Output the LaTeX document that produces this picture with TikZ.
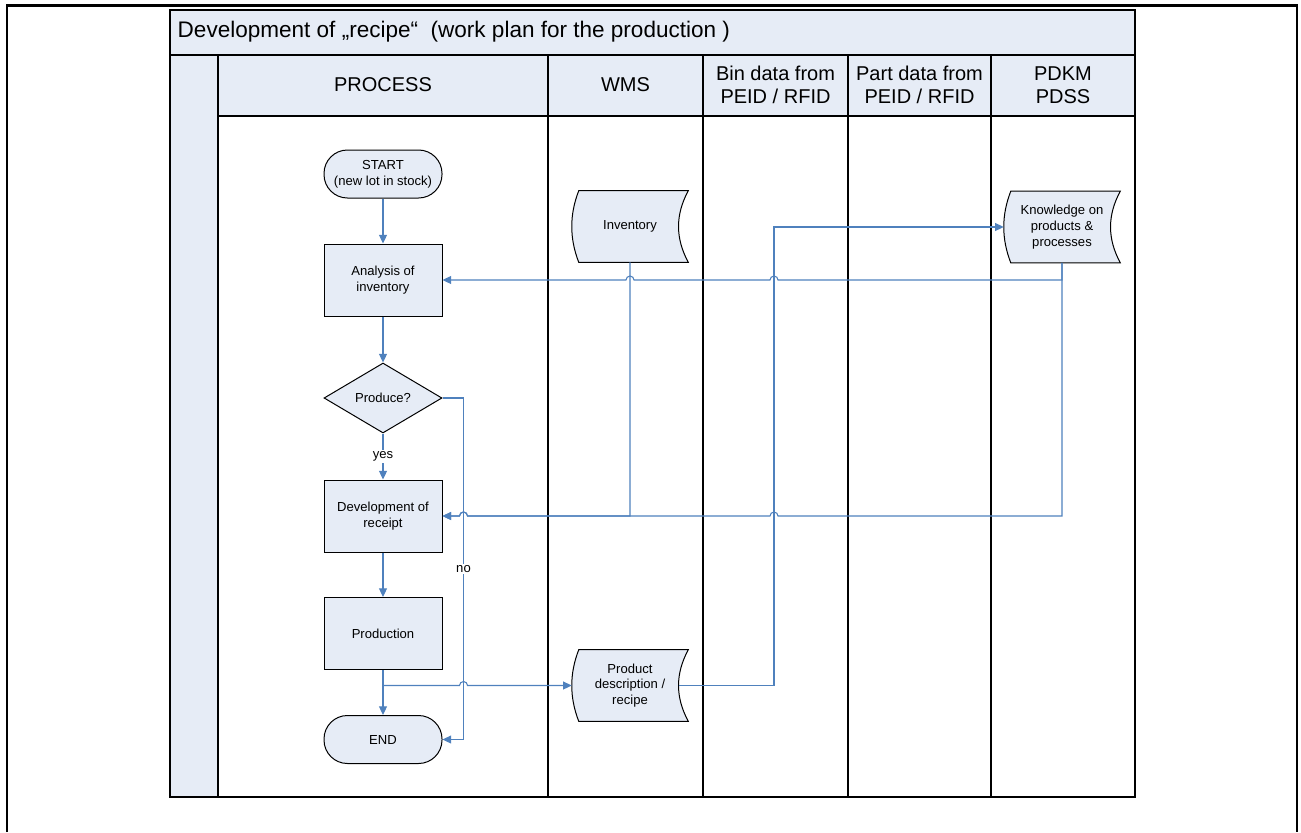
\documentclass[tikz,border=0pt]{standalone}
\usepackage{fontspec}
\setmainfont{Liberation Sans}
\usetikzlibrary{shapes.geometric, arrows.meta, calc}
\pgfdeclarelayer{background}
\pgfsetlayers{background,main}

\definecolor{lanefill}{HTML}{E6ECF6}
\definecolor{flow}{HTML}{4F81BD}

% outline of a "stored data" symbol around a rectangular node
\newcommand{\storedoutline}[1]{%
  \draw[line width=0.75pt, fill=lanefill]
    ($(#1.north west)+(7,0)$) -- (#1.north east)
    .. controls ($(#1.north east)+(-13,24)$) and ($(#1.south east)+(-13,-24)$) .. (#1.south east)
    -- ($(#1.south west)+(7,0)$)
    .. controls ($(#1.south west)+(-2.3,-24)$) and ($(#1.north west)+(-2.3,24)$) .. cycle;}

\begin{document}
\begin{tikzpicture}[x=0.75pt, y=-0.75pt,
  every node/.style={font=\fontsize{9.8}{11.9}\selectfont, align=center},
  pbox/.style={draw, line width=0.75pt, fill=lanefill, minimum width=88.5pt, minimum height=54pt, inner sep=0pt},
  term/.style={draw, line width=0.75pt, fill=lanefill, rounded corners=17.6pt, minimum width=88.5pt, minimum height=36pt, inner sep=0pt},
  decide/.style={draw, line width=0.75pt, fill=lanefill, diamond, aspect=1.69, minimum width=88.5pt, minimum height=52.5pt, inner sep=0pt},
  store/.style={minimum width=87pt, minimum height=53.25pt, inner sep=0pt},
  headtext/.style={font=\fontsize{15}{17.5}\selectfont},
  pool/.style={draw=black, line width=0.8pt},
  conn/.style={draw=flow, line width=0.8pt},
  arr/.style={conn, -{Triangle[length=6.5pt, width=6pt]}},
  lbl/.style={fill=white, inner sep=1.2pt},
]
\useasboundingbox (0,0) rectangle (1301,832);

% page frame (open at the bottom)
\draw[line width=2pt] (7,832) -- (7,5.5) -- (1297,5.5) -- (1297,832);

% swimlane pool
\fill[lanefill] (170,10) rectangle (1135,116);
\fill[lanefill] (170,116) rectangle (218,797);
\draw[pool] (170,10) rectangle (1135,797);
\draw[pool] (170,55) -- (1135,55);
\draw[pool] (218,116) -- (1135,116);
\foreach \lx in {218,548,703,848,991} \draw[pool] (\lx,55) -- (\lx,797);

\node[anchor=west, font=\fontsize{16.9}{19}\selectfont] (title) at (173,32)
  {Development of „recipe“\ \ (work plan for the production )};
\node[headtext] (hproc) at (383,85) {PROCESS};
\node[headtext] (hwms)  at (625.5,85) {WMS};
\node[headtext] (hbin)  at (775.5,85) {Bin data from\\PEID / RFID};
\node[headtext] (hpart) at (919.5,85) {Part data from\\PEID / RFID};
\node[headtext] (hpdkm) at (1063,85) {PDKM\\PDSS};

% process steps
\node[term]   (start) at (383,174)   {START\\(new lot in stock)};
\node[pbox]   (an)    at (383,280)   {Analysis of\\inventory};
\node[decide] (pr)    at (383,398)   {Produce?};
\node[pbox]   (dev)   at (383,516)   {Development of\\receipt};
\node[pbox]   (prod)  at (383,633.5) {Production};
\node[term]   (end)   at (383,739.5) {END};

% data stores
\node[store] (inv)   at (630,226.5)  {Inventory};
\node[store] (kn)    at (1062,227)   {Knowledge on\\products \&\\processes};
\node[store] (prdoc) at (630,685.5)  {Product\\description /\\recipe};
\begin{pgfonlayer}{background}
  \storedoutline{inv}
  \storedoutline{kn}
  \storedoutline{prdoc}
\end{pgfonlayer}

% routing points
\coordinate (noturn) at ($(pr.east)+(21,0)$);
\coordinate (riser) at (774,685.5);

% main flow
\draw[arr] (start) -- (an);
\draw[arr] (an) -- (pr);
\draw[arr] (pr) -- node[lbl] {yes} (dev);
\draw[arr] (dev) -- (prod);
\draw[arr] (prod) -- (end);
\draw[arr] (pr.east) -- (noturn) -- node[lbl] {no} (noturn |- end.east) -- (end.east);

% production result to the data stores
\draw[arr] (prod.south) -- (prod.south |- prdoc.west)
  -- ($(noturn |- prdoc.west)+(-4,0)$) arc[start angle=180, end angle=360, radius=4]
  -- (prdoc.west);
\draw[arr] ($(prdoc.east)+(-9.75,0)$) -- (riser) -- (riser |- kn.west) -- (kn.west);

% knowledge and inventory feeding back
\draw[arr] (kn.south) -- (kn.south |- an.east)
  -- ($(riser |- an.east)+(4,0)$) arc[start angle=0, end angle=-180, radius=4]
  -- ($(inv.south |- an.east)+(4,0)$) arc[start angle=0, end angle=-180, radius=4]
  -- (an.east);
\draw[arr] (kn.south) -- (kn.south |- dev.east)
  -- ($(riser |- dev.east)+(4,0)$) arc[start angle=0, end angle=-180, radius=4]
  -- ($(noturn |- dev.east)+(4,0)$) arc[start angle=0, end angle=-180, radius=4]
  -- (dev.east);
\draw[arr] (inv.south) -- (inv.south |- dev.east)
  -- ($(noturn |- dev.east)+(4,0)$) arc[start angle=0, end angle=-180, radius=4]
  -- (dev.east);
\end{tikzpicture}
\end{document}
